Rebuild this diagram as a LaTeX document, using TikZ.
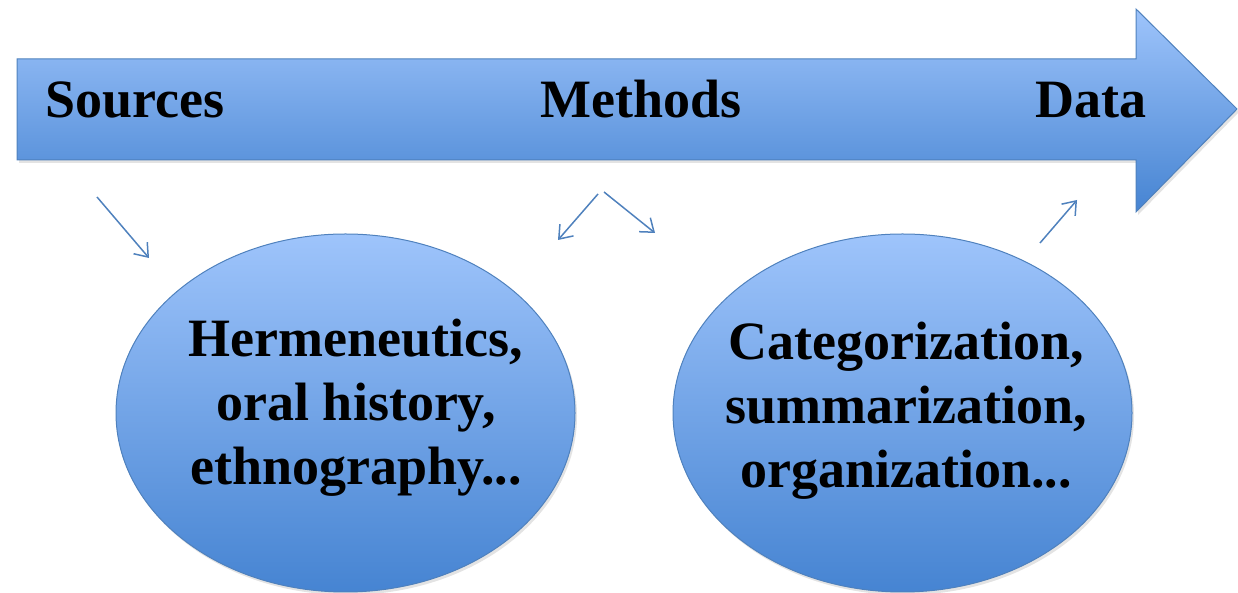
\documentclass[tikz,border=0pt]{standalone}
\usepackage{fontspec}
\setmainfont{Liberation Serif}
\usetikzlibrary{arrows.meta,shapes.geometric,shadows}
\definecolor{topblue}{HTML}{9EC4FB}
\definecolor{botblue}{HTML}{4684D2}
\definecolor{edgeblue}{HTML}{4F81BD}
\tikzset{
  bluefill/.style={draw=edgeblue, line width=1pt, top color=topblue, bottom color=botblue,
    drop shadow={opacity=0.22, shadow xshift=2pt, shadow yshift=-3pt}},
  bigword/.style={font=\fontsize{54}{64}\selectfont\bfseries, inner sep=0pt},
  blob/.style={bluefill, ellipse, minimum width=459pt, minimum height=358pt, inner sep=0pt},
  pointer/.style={draw=edgeblue, line width=1.5pt, -{Straight Barb[length=12pt,width=18pt,line width=1.5pt]}}
}
\begin{document}
\begin{tikzpicture}[x=1pt,y=1pt]
  \useasboundingbox (0,0) rectangle (1238,593);
  % the big block arrow across the top
  \path[bluefill] (17,534) -- (1136,534) -- (1136,584) -- (1237,484)
    -- (1136,381) -- (1136,433) -- (17,433) -- cycle;
  \node[bigword, anchor=base west] (src) at (45,475) {Sources};
  \node[bigword, anchor=base west] (meth) at (540,475) {Methods};
  \node[bigword, anchor=base west] (dat) at (1035,475) {Data};

  % the two ellipses
  \node[blob] (left) at (345.5,180) {};
  \node[blob] (right) at (902.5,180) {};
  % anchor=base sits on the last line's baseline
  \node[bigword, align=center, anchor=base] (herm) at (356,108)
    {Hermeneutics,\\oral history,\\ethnography...};
  \node[bigword, align=center, anchor=base] (cat) at (906,105)
    {Categorization,\\summarization,\\organization...};

  % small arrows between the labels and the ellipses
  \coordinate (a1s) at (97,396);  \coordinate (a1e) at (149,335);
  \coordinate (a2s) at (598,399); \coordinate (a2e) at (558,353);
  \coordinate (a3s) at (604,401); \coordinate (a3e) at (655,360);
  \coordinate (a4s) at (1040,350); \coordinate (a4e) at (1077,393);
  \draw[pointer] (a1s) -- (a1e);
  \draw[pointer] (a2s) -- (a2e);
  \draw[pointer] (a3s) -- (a3e);
  \draw[pointer] (a4s) -- (a4e);
\end{tikzpicture}
\end{document}
